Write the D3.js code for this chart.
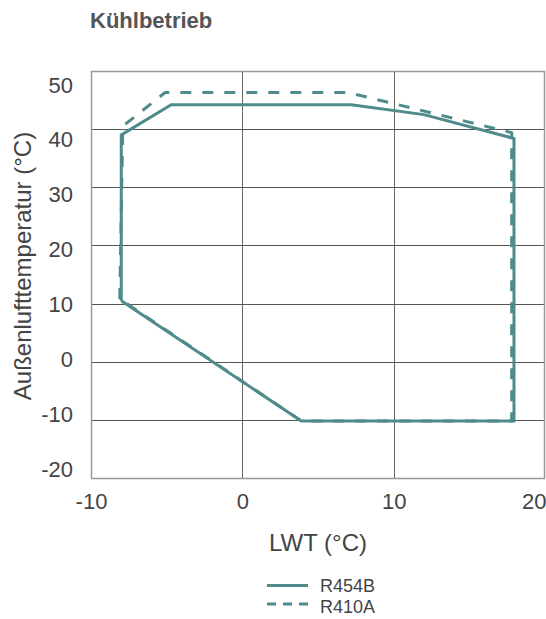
<!DOCTYPE html>
<html><head><meta charset="utf-8">
<script src="https://cdn.jsdelivr.net/npm/d3@7"></script>
<style>
body{margin:0;background:#fff;}
svg{display:block;font-family:"Liberation Sans",Arial,sans-serif;}
</style></head>
<body><svg id="c" width="546" height="619"></svg>
<script>
const title = "Kühlbetrieb";
const xTitle = "LWT (°C)";
const yTitle = "Außenlufttemperatur (°C)";
const xTicks = [-10, 0, 10, 20];
const yTicks = [-20, -10, 0, 10, 20, 30, 40, 50];
const seriesNames = ["R454B", "R410A"];
const lwtR454B = [-8, -8, -4.7, 7.2, 12, 17.95, 17.95, 3.9, -8];
const oatR454B = [10.5, 39, 44.2, 44.2, 42.5, 38.4, -10.2, -10.2, 10.5];
const lwtR410A = [-8.1, -7.9, -5.1, 7.0, 17.8, 17.8, 3.9, -8.1];
const oatR410A = [10.8, 40.5, 46.3, 46.3, 39.4, -10.2, -10.2, 10.8];

const teal = "#4f8b8a";
const svg = d3.select("#c");
const x = d3.scaleLinear().domain([-10, 20]).range([91, 545]);
const y = d3.scaleLinear().domain([-20, 50]).range([478, 71]);
const yLab = d3.scaleLinear().domain([-20, 50]).range([469, 85]);
const fmt = d => String(d);

// grid
svg.append("g").selectAll("line.v").data(xTicks.slice(1, -1)).join("line")
  .attr("x1", d => Math.round(x(d)) + 0.5).attr("x2", d => Math.round(x(d)) + 0.5)
  .attr("y1", y(50)).attr("y2", y(-20)).attr("stroke", "#666").attr("stroke-width", 1);
svg.append("g").selectAll("line.h").data(yTicks.slice(1, -1)).join("line")
  .attr("y1", d => Math.round(y(d)) + 0.5).attr("y2", d => Math.round(y(d)) + 0.5)
  .attr("x1", x(-10)).attr("x2", x(20)).attr("stroke", "#555").attr("stroke-width", 1);
svg.append("rect").attr("x", x(-10) + 0.5).attr("y", y(50) + 0.5)
  .attr("width", x(20) - x(-10) - 1).attr("height", y(-20) - y(50))
  .attr("fill", "none").attr("stroke", "#999").attr("stroke-width", 1.5);

// lines
const line = d3.line().x(d => x(d[0])).y(d => y(d[1]));
svg.append("path").datum(lwtR410A.map((v, i) => [v, oatR410A[i]]))
  .attr("d", line).attr("fill", "none").attr("stroke", teal).attr("stroke-width", 3)
  .attr("stroke-dasharray", "11,11").attr("stroke-linejoin", "round");
svg.append("path").datum(lwtR454B.map((v, i) => [v, oatR454B[i]]))
  .attr("d", line).attr("fill", "none").attr("stroke", teal).attr("stroke-width", 3)
  .attr("stroke-linejoin", "miter");

// axes
const ax = svg.append("g").attr("transform", "translate(0,478)")
  .call(d3.axisBottom(x).tickValues(xTicks).tickSize(0).tickPadding(15).tickFormat(fmt));
ax.select(".domain").remove();
ax.selectAll("text").attr("font-size", 22).attr("fill", "#444")
  .attr("font-family", "Liberation Sans, Arial, sans-serif")
  .filter(d => d === 20).attr("text-anchor", "end").attr("dx", 1);
const ay = svg.append("g").attr("transform", "translate(75,0)")
  .call(d3.axisLeft(yLab).tickValues(yTicks).tickSize(0).tickPadding(2).tickFormat(fmt));
ay.select(".domain").remove();
ay.selectAll("text").attr("font-size", 22).attr("fill", "#444")
  .attr("font-family", "Liberation Sans, Arial, sans-serif");

// titles
svg.append("text").attr("x", 90).attr("y", 28).attr("font-size", 22).attr("font-weight", "bold")
  .attr("fill", "#555").text(title);
svg.append("text").attr("x", 318).attr("y", 551).attr("text-anchor", "middle")
  .attr("font-size", 24).attr("fill", "#444").text(xTitle);
svg.append("text").attr("transform", "translate(31,266) rotate(-90)").attr("text-anchor", "middle")
  .attr("font-size", 24).attr("fill", "#444").text(yTitle);

// legend
const leg = svg.append("g");
seriesNames.forEach((n, i) => {
  const ly = 585.5 + i * 18.5;
  leg.append("line").attr("x1", 267).attr("x2", 308).attr("y1", ly).attr("y2", ly)
    .attr("stroke", teal).attr("stroke-width", 3)
    .attr("stroke-dasharray", i === 1 ? "9,7" : null);
  leg.append("text").attr("x", 320).attr("y", 591.5 + i * 21).attr("font-size", 18)
    .attr("fill", "#444").text(n);
});
</script></body></html>
